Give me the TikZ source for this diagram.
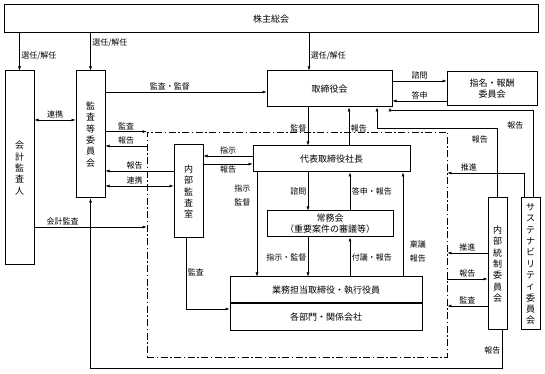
\documentclass[tikz,border=0pt]{standalone}
\usepackage{fontspec}
\setmainfont{Noto Sans CJK JP}
\usetikzlibrary{arrows.meta,positioning,calc}

\begin{document}
\begin{tikzpicture}[x=1pt,y=1pt,>={Latex[length=4pt,width=3pt]},
  box/.style={draw,line width=1pt,inner sep=0pt,align=center,font=\fontsize{9}{11}\selectfont},
  vbox/.style={box,font=\fontsize{9}{11.3}\selectfont},
  lab/.style={inner sep=1.5pt,align=center,font=\fontsize{8}{10}\selectfont},
  lab2/.style={lab,font=\fontsize{8}{13.5}\selectfont},
  con/.style={line width=0.5pt},
  grpline/.style={draw,line width=0.8pt,dash pattern=on 7pt off 2.5pt on 1.5pt off 2.5pt}]
\useasboundingbox (0,0) rectangle (545,374);
\node (agm) [box,minimum width=534pt,minimum height=28pt] at (271,355) {株主総会};
\node (auditor) [vbox,minimum width=29pt,minimum height=194pt] at (19.5,206) {会\\計\\監\\査\\人};
\node (acb) [vbox,minimum width=29pt,minimum height=127pt] at (90.5,239.5) {監\\査\\等\\委\\員\\会};
\node (board) [box,minimum width=125pt,minimum height=36pt] at (329.5,285) {取締役会};
\node (nomc) [box,minimum width=90pt,minimum height=34pt] at (492,285) {指名・報酬\\委員会};
\node (ceo) [box,minimum width=157pt,minimum height=26pt] at (331.5,215) {代表取締役社長};
\node (iad) [vbox,minimum width=29pt,minimum height=93pt] at (188.5,182.5) {内\\部\\監\\査\\室};
\node (jomu) [box,minimum width=126pt,minimum height=26pt] at (330,150) {常務会\\（重要案件の審議等）};
\node (exec) [box,minimum width=192pt,minimum height=26pt] at (326,84) {業務担当取締役・執行役員};
\node (dept) [box,minimum width=192pt,minimum height=27pt,below=0pt of exec] {各部門・関係会社};
\node (icc) [vbox,minimum width=19pt,minimum height=132pt] at (497.5,110) {内\\部\\統\\制\\委\\員\\会};
\node (susc) [vbox,minimum width=19pt,minimum height=132pt] at (530.5,110) {サ\\ス\\テ\\ナ\\ビ\\リ\\テ\\ィ\\委\\員\\会};
\node (grp) [grpline,minimum width=300pt,minimum height=225pt,inner sep=0pt] at (297,129.5) {};
% 株主総会から
\draw[con,->] (agm.south -| auditor.north) -- node[lab,right,pos=0.6]{選任/解任} (auditor.north);
\draw[con,->] (agm.south -| acb.north) -- node[lab,right,pos=0.26]{選任/解任} (acb.north);
\draw[con,->] (agm.south -| 309,0) -- node[lab,right,pos=0.6]{選任/解任} (board.north -| 309,0);
% 監査等委員会まわり
\draw[con,<->] (auditor.east |- 0,254) -- node[lab,above]{連携} (acb.west |- 0,254);
\draw[con,->] (acb.east |- 0,282) -- node[lab,above,pos=0.4]{監査・監督} (board.west |- 0,282);
\draw[con,->] (acb.east |- grp.north) -- node[lab,above]{監査} (grp.north west);
\draw[con,->] (grp.west |- 0,228) -- node[lab,above]{報告} (acb.east |- 0,228);
\draw[con,->] (iad.west |- 0,203) -- node[lab,above,pos=0.57]{報告} (acb.east |- 0,203);
\draw[con,<->] (acb.east |- 0,188) -- node[lab,above,pos=0.43]{連携} (iad.west |- 0,188);
\draw[con,->] (auditor.east |- 0,147) -- node[lab,above,pos=0.25]{会計監査} (grp.west |- 0,147);
% 内部監査室
\draw[con,->] (ceo.west |- 0,218) -- node[lab,above]{指示} (iad.east |- 0,218);
\draw[con,->] (iad.east |- 0,210) -- node[lab,below]{報告} (ceo.west |- 0,210);
\draw[con,->] (iad.south -| 186,0) |- node[lab,right,pos=0.24]{監査} (dept.west |- 0,65);
% 取締役会・代表取締役社長
\draw[con,->] (board.south -| 308,0) -- node[lab,left,pos=0.56]{監督} (ceo.north -| 308,0);
\draw[con,->] (ceo.north -| 349,0) -- node[lab,right,pos=0.44]{報告} (board.south -| 349,0);
\draw[con,->] (board.east |- 0,293) -- node[lab,above]{諮問} (nomc.west |- 0,293);
\draw[con,->] (nomc.west |- 0,273) -- node[lab,above]{答申} (board.east |- 0,273);
% 代表・常務会・業務担当
\draw[con,->] (ceo.south -| 257,0) -- node[lab2,left,pos=0.22,xshift=-5pt]{指示\\監督} (exec.north -| 257,0);
\draw[con,->] (ceo.south -| 308,0) -- node[lab,left]{諮問} (jomu.north -| 308,0);
\draw[con,->] (jomu.north -| 350,0) -- node[lab,right]{答申・報告} (ceo.south -| 350,0);
\draw[con,->] (jomu.south -| 308,0) -- node[lab,left]{指示・監督} (exec.north -| 308,0);
\draw[con,->] (exec.north -| 350,0) -- node[lab,right]{付議・報告} (jomu.south -| 350,0);
\draw[con,->] (exec.north -| 403,0) -- node[lab2,right,pos=0.24,xshift=5pt]{稟議\\報告} (ceo.south -| 403,0);
% 内部統制委員会・サステナビリティ委員会
\draw[con,->] (icc.north) -- node[lab,left,pos=0.84,xshift=-8pt]{報告} ++(0,69) -| (board.south -| 377,0);
\draw[con,->] (susc.north -| 533,0) -- node[lab,left,pos=0.83,xshift=-8pt]{報告} ++(0,87) -| (board.south -| 390,0);
\draw[con,->] (susc.north -| 524,0) |- node[lab,above,pos=0.86]{推進} (grp.east |- 0,201);
\draw[con,->] (icc.west |- 0,121) -- node[lab,above]{推進} (grp.east |- 0,121);
\draw[con,->] (grp.east |- 0,95) -- node[lab,above]{報告} (icc.west |- 0,95);
\draw[con,->] (icc.west |- 0,68) -- node[lab,above]{監査} (grp.east |- 0,68);
\draw[con,->] (icc.south -| 502,0) -- node[lab,left,pos=0.53]{報告} ++(0,-38) -| (acb.south);
\end{tikzpicture}
\end{document}
